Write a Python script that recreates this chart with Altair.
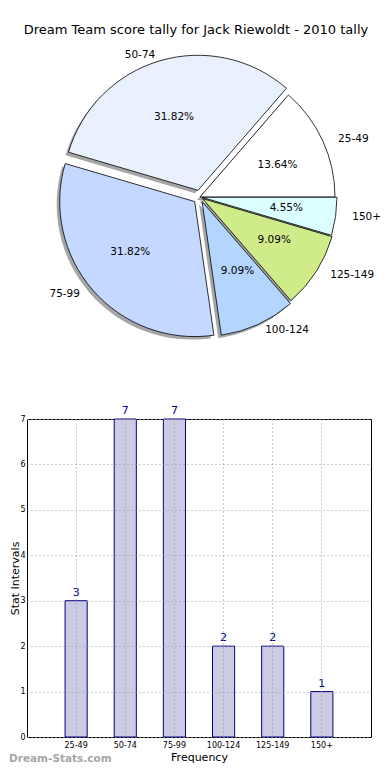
import altair as alt
import pandas as pd

# ---------------- data ----------------
categories = ["25-49", "50-74", "75-99", "100-124", "125-149", "150+"]
counts = [3, 7, 7, 2, 2, 1]
y_ticks = [0, 1, 2, 3, 4, 5, 6, 7]
title_text = "Dream Team score tally for Jack Riewoldt - 2010 tally"
watermark = ["Dream-Stats.com"]

# ---------------- styles ----------------
slice_colors = ["#ffffff", "#eaf1fe", "#c5d8ff", "#b4d5fe", "#cfeb8a", "#dbffff"]
explode_px = [0, 7, 7, 5, 3, 2]
FONT = "DejaVu Sans"
PLOT_LEFT = 26          # page x of the bar plot's left edge
CX, CY, R = 199 - PLOT_LEFT, 189, 135
RX, RY = 138, 128       # label placement radii
PANEL_W = 370 - PLOT_LEFT
PIE_H = 411
BAR_H = 318

pie_df = pd.DataFrame({"cat": categories, "count": counts, "explode": explode_px})

pie_base = (
    alt.Chart(pie_df)
    .transform_window(cum="sum(count)", frame=[None, 0])
    .transform_joinaggregate(total="sum(count)")
    .transform_calculate(a0="2.5*PI - 2*PI*(datum.cum - datum.count)/datum.total")
    .transform_calculate(a1="2.5*PI - 2*PI*datum.cum/datum.total")
    .transform_calculate(mid="(datum.a0 + datum.a1)/2")
    .transform_calculate(cx=f"{CX} + datum.explode*sin(datum.mid)")
    .transform_calculate(cy=f"{CY} - datum.explode*cos(datum.mid)")
    .transform_calculate(sx="datum.cx - 3")
    .transform_calculate(sy="datum.cy + 3")
    .transform_calculate(lx=f"datum.cx + {1.1 * RX}*sin(datum.mid)")
    .transform_calculate(ly=f"datum.cy - {1.1 * RY}*cos(datum.mid)")
    .transform_calculate(px=f"datum.cx + {0.6 * 142}*sin(datum.mid)")
    .transform_calculate(py=f"datum.cy - {0.6 * RY}*cos(datum.mid)")
    .transform_calculate(pct="format(100*datum.count/datum.total, '.2f') + '%'")
)

shadow = pie_base.mark_arc(outerRadius=R, fill="#4d4d4d", fillOpacity=0.5).encode(
    theta=alt.Theta("a0:Q", scale=None),
    theta2="a1:Q",
    x=alt.X("sx:Q", scale=None, axis=None),
    y=alt.Y("sy:Q", scale=None, axis=None),
)

slices = pie_base.mark_arc(outerRadius=R, stroke="black", strokeWidth=0.8).encode(
    theta=alt.Theta("a0:Q", scale=None),
    theta2="a1:Q",
    x=alt.X("cx:Q", scale=None, axis=None),
    y=alt.Y("cy:Q", scale=None, axis=None),
    color=alt.Color("cat:N", scale=alt.Scale(domain=categories, range=slice_colors), legend=None),
)

pct_text = pie_base.mark_text(fontSize=10.5, font=FONT, color="black").encode(
    x=alt.X("px:Q", scale=None, axis=None),
    y=alt.Y("py:Q", scale=None, axis=None),
    text="pct:N",
)

lab_right = pie_base.transform_filter("sin(datum.mid) > 0").mark_text(
    fontSize=10.5, font=FONT, color="black", align="left", baseline="middle"
).encode(
    x=alt.X("lx:Q", scale=None, axis=None),
    y=alt.Y("ly:Q", scale=None, axis=None),
    text="cat:N",
)

lab_left = pie_base.transform_filter("sin(datum.mid) <= 0").mark_text(
    fontSize=10.5, font=FONT, color="black", align="right", baseline="middle"
).encode(
    x=alt.X("lx:Q", scale=None, axis=None),
    y=alt.Y("ly:Q", scale=None, axis=None),
    text="cat:N",
)

title = alt.Chart(pd.DataFrame({"t": [title_text]})).mark_text(
    fontSize=13, font=FONT, color="black", align="center", baseline="middle"
).encode(x=alt.value(195 - PLOT_LEFT), y=alt.value(22), text="t:N")

pie = alt.layer(shadow, slices, pct_text, lab_right, lab_left, title).properties(
    width=PANEL_W, height=PIE_H,
    view=alt.ViewBackground(stroke="transparent", strokeWidth=0),
)

# ---------------- bar chart ----------------
bar_df = pd.DataFrame({"cat": categories, "count": counts})

x_enc = alt.X(
    "cat:N",
    sort=categories,
    scale=alt.Scale(paddingInner=0.55, paddingOuter=0.775),
    axis=alt.Axis(
        title="Frequency", labelAngle=0, labelFontSize=8, labelPadding=4,
        titleFontSize=11, titlePadding=2, ticks=False, domain=False,
        grid=True, gridDash=[1, 3], gridColor="#999999", gridWidth=1,
        bandPosition=0.5, zindex=1, labelFont=FONT, titleFont=FONT,
        titleFontWeight="normal", labelColor="black", titleColor="black",
    ),
)
y_enc = alt.Y(
    "count:Q",
    scale=alt.Scale(domain=[0, 7], nice=False),
    axis=alt.Axis(
        values=y_ticks, title="Stat Intervals", labelFontSize=8, labelPadding=2,
        titleFontSize=11, titleX=-9, titleY=BAR_H / 2, titleBaseline="alphabetic",
        titleAlign="center", titleAngle=270,
        ticks=False, domain=False,
        grid=True, gridDash=[1, 3], gridColor="#999999", gridWidth=1,
        zindex=1, labelFont=FONT, titleFont=FONT, titleFontWeight="normal",
        labelColor="black", titleColor="black",
    ),
)

bars = alt.Chart(bar_df).mark_bar(fill="#cbcbe3", stroke="#00008b", strokeWidth=1).encode(
    x=x_enc, y=y_enc
)
bar_labels = alt.Chart(bar_df).mark_text(
    baseline="bottom", dy=-3, color="#00008b", fontSize=11, font=FONT
).encode(x=x_enc, y=y_enc, text="count:Q")

wm = alt.Chart(pd.DataFrame({"w": watermark})).mark_text(
    align="left", baseline="middle", fontSize=10.5, fontWeight="bold",
    font=FONT, color="#a6a6a6"
).encode(x=alt.value(8 - PLOT_LEFT), y=alt.value(340), text="w:N")

bar = alt.layer(bars, bar_labels, wm).properties(
    width=PANEL_W, height=BAR_H,
    view=alt.ViewBackground(stroke="black", strokeWidth=1),
)

chart = (
    alt.vconcat(pie, bar, spacing=0, bounds="flush",
                padding={"left": 0, "top": 0, "right": 0, "bottom": 0})
    .configure_view(stroke="transparent")
    .configure(background="white")
)

chart.save("out.html", embed_options={"renderer": "svg", "actions": False})
